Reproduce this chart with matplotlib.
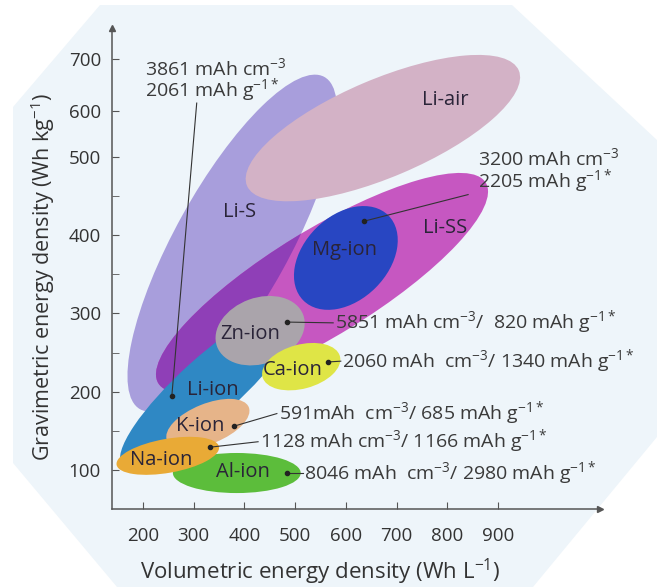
import numpy as np
import matplotlib
matplotlib.use("Agg")
import matplotlib.pyplot as plt
from matplotlib.patches import Ellipse, Polygon
from matplotlib.transforms import Affine2D

plt.rcParams['font.family'] = ['Open Sans', 'DejaVu Sans']
plt.rcParams['mathtext.fontset'] = 'custom'
plt.rcParams['mathtext.rm'] = 'Open Sans'
plt.rcParams['mathtext.it'] = 'Open Sans:italic'
plt.rcParams['mathtext.bf'] = 'Open Sans:bold'
plt.rcParams['mathtext.default'] = 'rm'

# battery chemistries: centre (Wh/L, Wh/kg), long/short span (in Wh/L units), tilt (deg)
names = ['Li-S', 'Li-air', 'Li-SS', 'Li-ion', 'Mg-ion', 'Zn-ion', 'Ca-ion', 'K-ion', 'Al-ion', 'Na-ion']
center_vol = [376, 673, 553, 332, 600, 431, 512, 328, 385, 249]
center_grav = [390, 537, 339, 207, 371, 278, 232, 159, 96, 118]
span_long = [749, 582, 757, 465, 237, 181, 158, 174, 252, 205]
span_short = [225, 193, 209, 118, 166, 130, 87, 79, 79, 67]
tilt = [61, 23, 31.5, 42, 45, 20, 15, 22, 0, 10]
colors = ['#a89edc', '#d3b2c6', '#c657c1', '#2f88c4', '#2846c2', '#aaa4ab',
          '#dfe546', '#e6b489', '#5cbd3b', '#e9aa36']

# where each name is written
label_vol = [391, 796, 796, 338, 598, 411, 496, 312, 397, 236]
label_grav = [430, 573, 409, 202, 381, 274, 228, 156, 97, 113]

# capacity call-outs: dot, end of leader line, text anchor
notes = ['3861 mAh cm$^{-3}$\n2061 mAh g$^{-1*}$',
         '3200 mAh cm$^{-3}$\n2205 mAh g$^{-1*}$',
         '5851 mAh cm$^{-3}$/  820 mAh g$^{-1*}$',
         '2060 mAh  cm$^{-3}$/ 1340 mAh g$^{-1*}$',
         '591mAh  cm$^{-3}$/ 685 mAh g$^{-1*}$',
         '1128 mAh cm$^{-3}$/ 1166 mAh g$^{-1*}$',
         '8046 mAh  cm$^{-3}$/ 2980 mAh g$^{-1*}$']
dot_vol = [257, 636, 484, 565, 380, 332, 484]
dot_grav = [195, 418, 289, 238, 156, 129, 96]
end_vol = [306, 841, 575, 590, 464, 427, 515]
end_grav = [569, 452, 288, 239, 172, 136, 96]
text_vol = [204, 861, 579, 593, 468, 431, 518]
text_grav = [598, 482, 288, 239, 172, 136, 96]

x_ticks = [200, 300, 400, 500, 600, 700, 800, 900]
y_labels = [100, 200, 300, 400, 500, 600, 700]
y_label_pos = [100, 200, 300, 400, 500, 559, 626]
y_minor_pos = [150, 250, 350, 450]

fig = plt.figure(figsize=(6.57, 5.87), dpi=100)
fig.patch.set_facecolor('white')

# light octagon behind the plot
octagon = [(100, 5), (512, 5), (657, 140), (657, 437), (533, 587),
           (117, 587), (13, 463), (13, 107)]
fig.patches.append(Polygon([(x / 657, 1 - y / 587) for x, y in octagon],
                           closed=True, transform=fig.transFigure,
                           facecolor='#eef5fa', edgecolor='none', zorder=-5))

ax = fig.add_axes([112 / 657, 78 / 587, 488 / 657, 481 / 587])
ax.set_zorder(2)
ax.patch.set_alpha(0)
ax.set_xlim(139, 1101)
ax.set_ylim(50, 665)

# make ellipse shapes isotropic on screen
bbox = ax.get_window_extent()
k = (bbox.height / (665 - 50)) / (bbox.width / (1101 - 139))
iso = Affine2D().scale(1, 1 / k) + ax.transData

for i, n in enumerate(names):
    e = Ellipse((center_vol[i], center_grav[i] * k), span_long[i], span_short[i],
                angle=tilt[i], transform=iso, facecolor=colors[i],
                edgecolor='none', zorder=1 + i * 0.1)
    ax.add_patch(e)
    if n == 'Li-SS':
        # Li-S seen through Li-SS
        i0 = names.index('Li-S')
        ov = Ellipse((center_vol[i0], center_grav[i0] * k), span_long[i0], span_short[i0],
                     angle=tilt[i0], transform=iso, facecolor='#8f3fb7',
                     edgecolor='none', zorder=1 + i * 0.1 + 0.05)
        ax.add_patch(ov)
        ov.set_clip_path(e)

for i, n in enumerate(names):
    ax.text(label_vol[i], label_grav[i], n, ha='center', va='center',
            fontsize=14.5, color='#2a2438', zorder=5)

for i, t in enumerate(notes):
    ax.plot([dot_vol[i], end_vol[i]], [dot_grav[i], end_grav[i]],
            color='#333333', lw=0.8, zorder=6)
    ax.plot(dot_vol[i], dot_grav[i], 'o', ms=3, color='#222222', zorder=7)
    ax.text(text_vol[i], text_grav[i], t, ha='left', va='center',
            fontsize=14, color='#3a3a3a', linespacing=0.9, zorder=7)

for s in ['top', 'right']:
    ax.spines[s].set_visible(False)
for s in ['left', 'bottom']:
    ax.spines[s].set_color('#555555')
    ax.spines[s].set_linewidth(1.1)
ax.plot(1, 0, '>', color='#555555', ms=4, transform=ax.transAxes, clip_on=False)
ax.plot(0, 1, '^', color='#555555', ms=4, transform=ax.transAxes, clip_on=False)

ax.set_xticks(x_ticks)
ax.set_yticks(y_label_pos)
ax.set_yticklabels([str(v) for v in y_labels])
ax.set_yticks(y_minor_pos, minor=True)
ax.tick_params(axis='both', which='both', direction='in', length=5,
               color='#555555', labelsize=13.5, labelcolor='#333333')
ax.tick_params(axis='x', pad=13)
ax.tick_params(axis='y', pad=8)

ax.set_xlabel('Volumetric energy density (Wh L$^{-1}$)', fontsize=16, color='#333333')
ax.set_ylabel('Gravimetric energy density (Wh kg$^{-1}$)', fontsize=15.5, color='#333333')
ax.xaxis.set_label_coords(0.426, -0.10)
ax.yaxis.set_label_coords(-0.113, 0.482)

fig.savefig('out.png', dpi=100)
